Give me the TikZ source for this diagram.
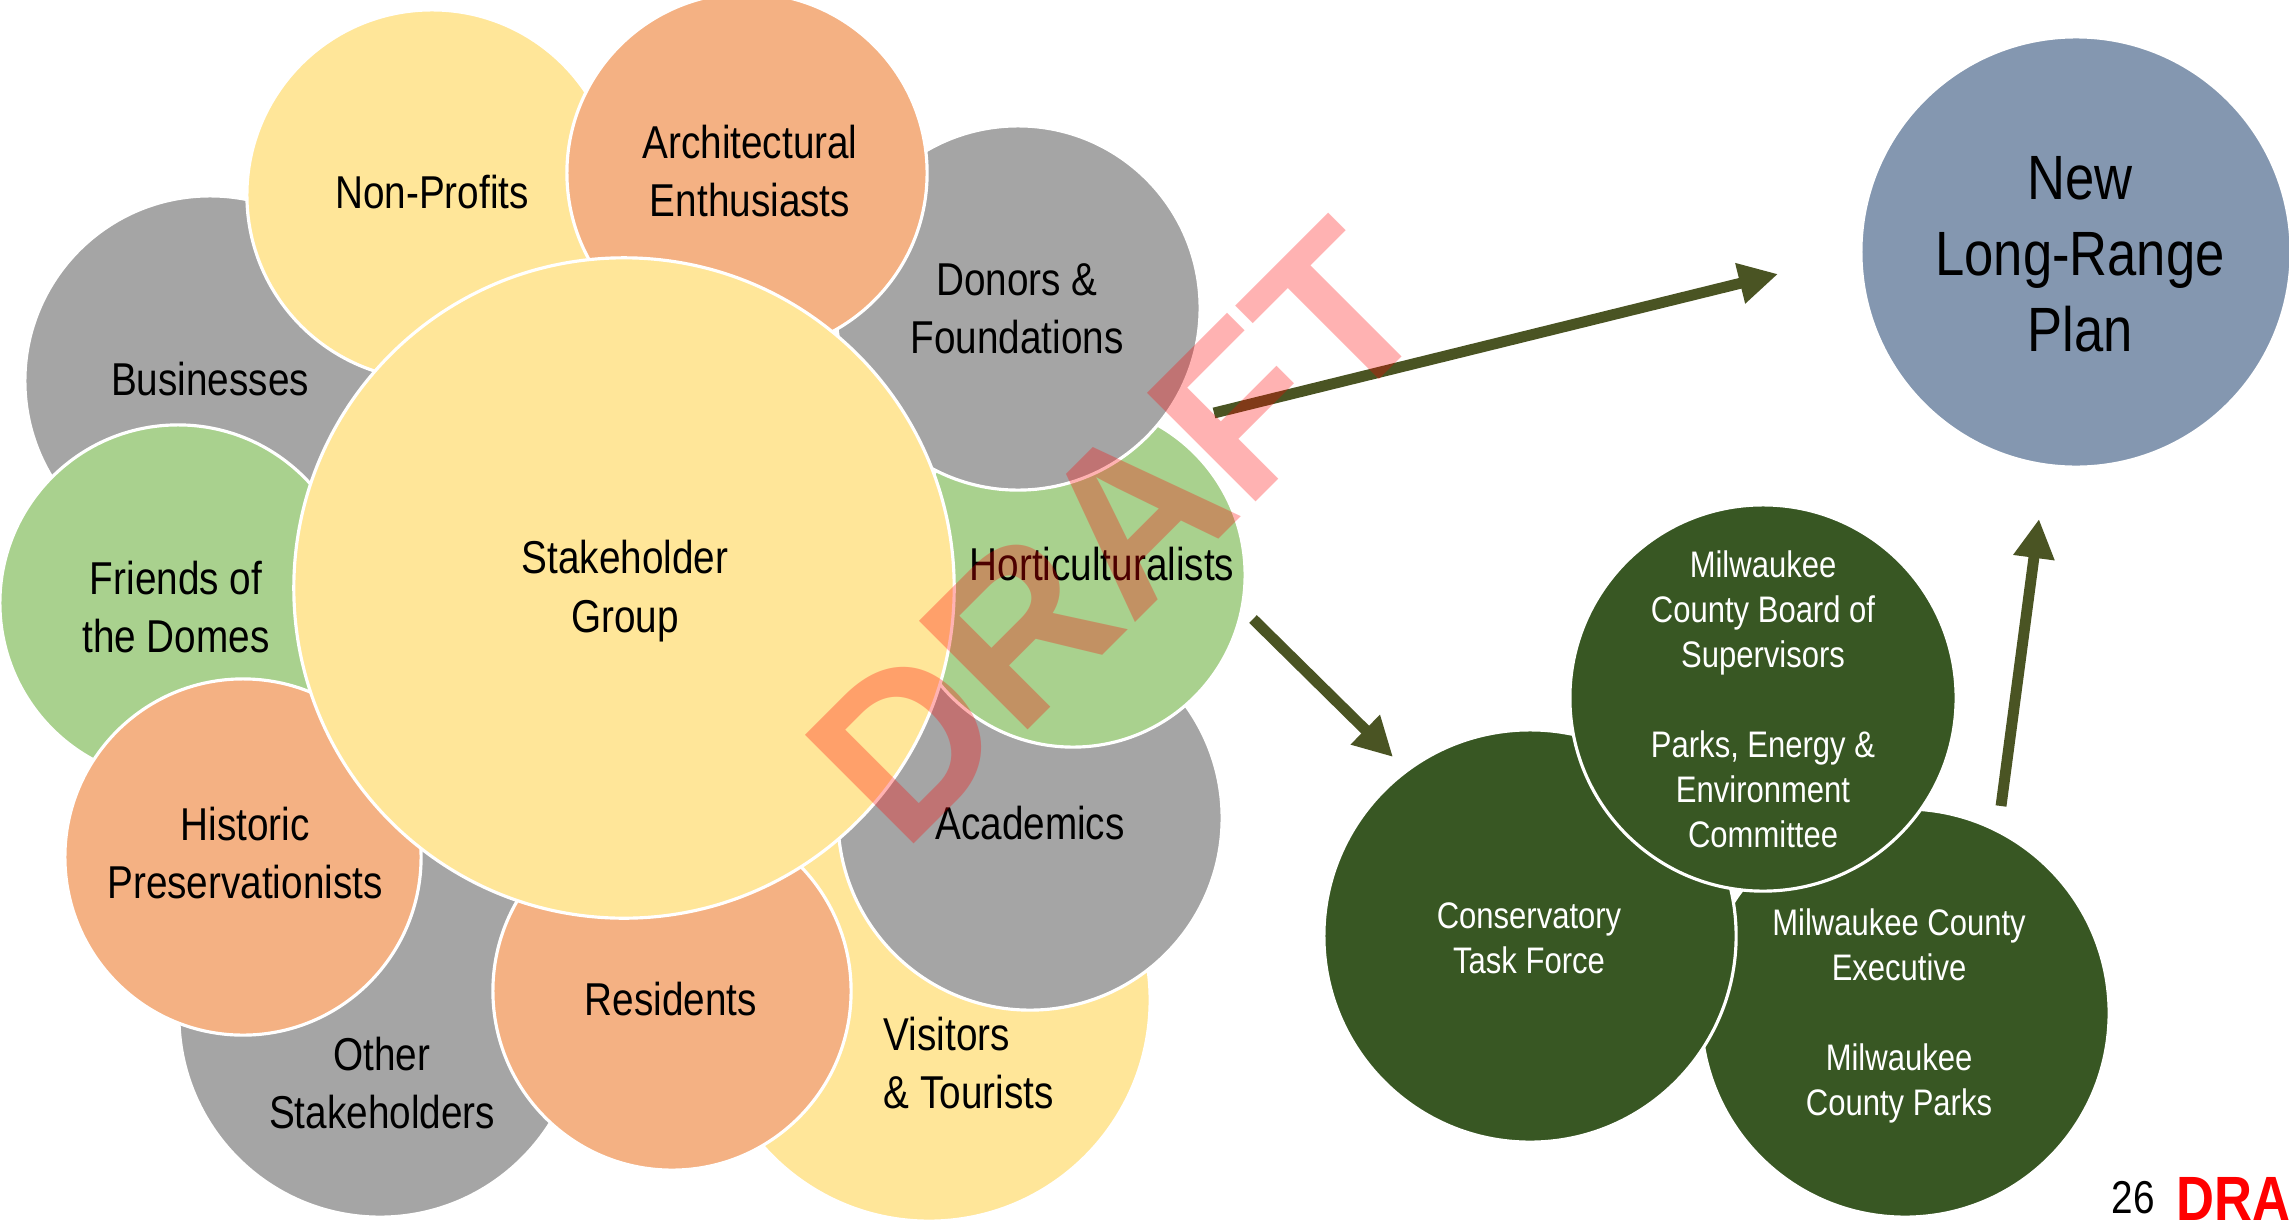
\documentclass[tikz,border=0pt]{standalone}
\usepackage{fontspec}
\setmainfont{Liberation Sans}[FakeStretch=0.84]
\newfontfamily\wmfont{Liberation Sans}
\usetikzlibrary{arrows.meta}
\definecolor{cgray}{RGB}{165,165,165}
\definecolor{cyel}{RGB}{255,230,153}
\definecolor{corange}{RGB}{244,177,131}
\definecolor{cgreen}{RGB}{169,209,142}
\definecolor{cdkgreen}{RGB}{56,87,35}
\definecolor{cplan}{RGB}{132,151,176}
\definecolor{carrow}{RGB}{74,84,35}
\begin{document}
\begin{tikzpicture}[x=0.01cm, y=-0.01cm,
  bub/.style={circle, draw=white, line width=0.9pt, inner sep=0pt},
  lbl/.style={align=center, inner sep=0pt, font=\fontsize{13.1}{16.6}\selectfont},
  wlbl/.style={align=center, inner sep=0pt, text=white, font=\fontsize{10.5}{12.8}\selectfont},
  conn/.style={draw=carrow, line width=3.1pt, -{Triangle[length=0.39cm, width=0.39cm]}}]
\useasboundingbox (0,0) rectangle (2289,1221);
\fill[white] (0,0) rectangle (2289,1221);
% outer circles of the stakeholder cluster (stacking order)
\node[bub, fill=cgray,   minimum size=3.70cm] (bus) at (210,381) {};
\node[bub, fill=cyel,    minimum size=4.42cm] (vis) at (929,1000) {};
\node[bub, fill=cgray,   minimum size=4.02cm] (oth) at (380,1016) {};
\node[bub, fill=cgreen,  minimum size=3.56cm] (fri) at (178,603) {};
\node[bub, fill=corange, minimum size=3.56cm] (his) at (243,857) {};
\node[bub, fill=cyel,    minimum size=3.70cm] (non) at (432,195) {};
\node[bub, fill=cgray,   minimum size=3.84cm] (aca) at (1030,818) {};
\node[bub, fill=cgreen,  minimum size=3.44cm] (hor) at (1073,575) {};
\node[bub, fill=cgray,   minimum size=3.64cm] (don) at (1018,308) {};
\node[bub, fill=corange, minimum size=3.60cm] (arc) at (747,173) {};
\node[bub, fill=corange, minimum size=3.58cm] (res) at (672,991) {};
\node[bub, fill=cyel,    minimum size=6.60cm] (stk) at (624,588) {};
% right cluster
\node[bub, fill=cplan,    minimum size=4.30cm] (plan) at (2076,252) {};
\node[bub, fill=cdkgreen, minimum size=4.08cm] (exe) at (1905,1013) {};
\node[bub, fill=cdkgreen, minimum size=4.12cm] (tf)  at (1530,936) {};
\node[bub, fill=cdkgreen, minimum size=3.86cm] (brd) at (1763,698) {};
% labels
\node[lbl] (non-t) at (432,192) {Non-Profits};
\node[lbl] (arc-t) at (750,171) {Architectural\\Enthusiasts};
\node[lbl] (don-t) at (1017,309) {Donors \&\\Foundations};
\node[lbl] (bus-t) at (210,379) {Businesses};
\node[lbl] (fri-t) at (176,607) {Friends of\\the Domes};
\node[lbl] (stk-t) at (625,591) {Stakeholder\\Group};
\node[lbl] (hor-t) at (1102,564) {Horticulturalists};
\node[lbl] (aca-t) at (1030,823) {Academics};
\node[lbl] (his-t) at (245,853) {Historic\\Preservationists};
\node[lbl] (oth-t) at (382,1083) {Other\\Stakeholders};
\node[lbl] (res-t) at (671,999) {Residents};
\node[lbl, anchor=west, align=left] (vis-t) at (883,1063) {Visitors\\\& Tourists};
\node[lbl, font=\fontsize{17.8}{21.6}\selectfont] (plan-t) at (2080,254) {New\\Long-Range\\Plan};
\node[wlbl] (brd-t) at (1763,699) {Milwaukee\\County Board of\\Supervisors\\~\\Parks, Energy \&\\Environment\\Committee};
\node[wlbl] (tf-t) at (1529,938) {Conservatory\\Task Force};
\node[wlbl] (exe-t) at (1899,1016) {Milwaukee County\\Executive\\~\\Milwaukee\\County Parks};
% connectors
\coordinate (a1s) at (1214,413);
\coordinate (a1e) at (1778,274);
\coordinate (a2s) at (1253,619);
\coordinate (a2e) at (1393,757);
\coordinate (a3s) at (2001,806);
\coordinate (a3e) at (2039,519);
\draw[conn] (a1s) -- (a1e);
\draw[conn] (a2s) -- (a2e);
\draw[conn] (a3s) -- (a3e);
% page number and draft mark
\node[anchor=base west, inner sep=0pt, font=\fontsize{13.1}{16}\selectfont] (pg) at (2111,1213) {26};
\node[anchor=base west, inner sep=0pt, text=red, font=\bfseries\fontsize{17.8}{20}\selectfont] (dr) at (2176,1220) {DRA};
% watermark
\node[rotate=45, inner sep=0pt, text=red, text opacity=0.3, font=\wmfont\bfseries\fontsize{63.5}{70}\selectfont] (wm) at (1117,533) {DRAFT};
\end{tikzpicture}
\end{document}
